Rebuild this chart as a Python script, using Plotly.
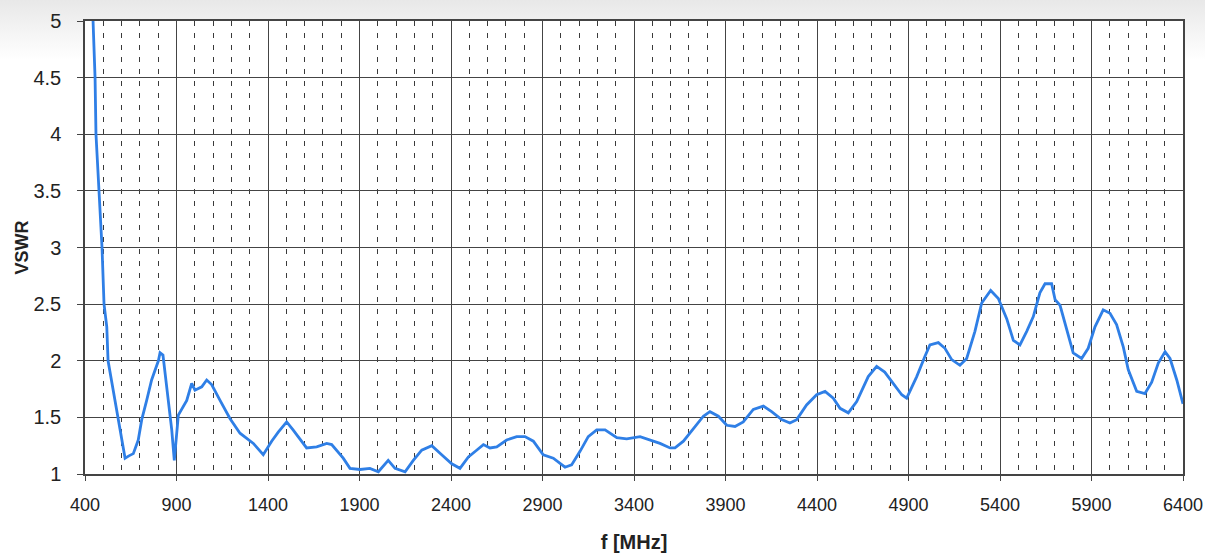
import plotly.graph_objects as go

freq_mhz = [444, 455, 460, 476, 493, 504, 519, 526, 555, 591, 609, 619, 640, 664, 691, 710, 737, 764,
            801, 810, 826, 854, 874, 888, 901, 910, 956, 983, 1001, 1038, 1065, 1092, 1138, 1192, 1247,
            1320, 1374, 1420, 1456, 1502, 1537, 1611, 1666, 1721, 1748, 1811, 1848, 1885, 1903, 1957,
            2003, 2057, 2094, 2149, 2194, 2240, 2295, 2349, 2404, 2449, 2495, 2540, 2577, 2613, 2650,
            2704, 2759, 2804, 2850, 2904, 2959, 3023, 3059, 3105, 3150, 3196, 3242, 3306, 3360, 3433,
            3488, 3542, 3597, 3624, 3670, 3724, 3779, 3815, 3861, 3907, 3952, 3997, 4052, 4107, 4152,
            4207, 4252, 4289, 4343, 4398, 4444, 4489, 4526, 4571, 4617, 4680, 4726, 4770, 4817, 4863,
            4890, 4945, 4990, 5017, 5063, 5099, 5136, 5181, 5218, 5263, 5300, 5327, 5349, 5391, 5437,
            5473, 5509, 5546, 5582, 5618, 5646, 5682, 5701, 5728, 5764, 5800, 5846, 5882, 5919, 5964,
            6001, 6037, 6074, 6101, 6147, 6192, 6229, 6265, 6302, 6329, 6366, 6400]
vswr = [5.0, 4.5, 4.0, 3.5, 3.0, 2.5, 2.3, 2.0, 1.74, 1.42, 1.24, 1.14, 1.16, 1.18, 1.30, 1.48, 1.65,
        1.83, 2.0, 2.07, 2.05, 1.68, 1.39, 1.12, 1.39, 1.52, 1.65, 1.80, 1.74, 1.77, 1.83, 1.79, 1.65,
        1.49, 1.36, 1.27, 1.17, 1.29, 1.37, 1.46, 1.39, 1.23, 1.24, 1.27, 1.26, 1.14, 1.05, 1.04, 1.04,
        1.05, 1.02, 1.12, 1.05, 1.02, 1.12, 1.21, 1.25, 1.17, 1.09, 1.05, 1.15, 1.21, 1.26, 1.23, 1.24,
        1.30, 1.33, 1.33, 1.29, 1.17, 1.14, 1.06, 1.08, 1.20, 1.33, 1.39, 1.39, 1.32, 1.31, 1.33,
        1.30, 1.27, 1.23, 1.23, 1.29, 1.40, 1.51, 1.55, 1.51, 1.43, 1.42, 1.46, 1.57, 1.60, 1.55,
        1.48, 1.45, 1.48, 1.61, 1.70, 1.73, 1.67, 1.58, 1.54, 1.64, 1.86, 1.95, 1.90, 1.80, 1.70,
        1.67, 1.86, 2.04, 2.14, 2.16, 2.11, 2.01, 1.96, 2.02, 2.26, 2.51, 2.57, 2.62, 2.55, 2.37,
        2.18, 2.14, 2.26, 2.39, 2.60, 2.68, 2.68, 2.54, 2.49, 2.27, 2.07, 2.02, 2.11, 2.30, 2.45,
        2.42, 2.32, 2.12, 1.92, 1.73, 1.71, 1.81, 1.98, 2.08, 2.02, 1.83, 1.62]

fig = go.Figure()
fig.add_trace(go.Scatter(x=freq_mhz, y=vswr, mode="lines",
                         line=dict(color="#2f7fe6", width=2.8), showlegend=False))

fig.update_layout(
    width=1205, height=553,
    margin=dict(l=85, r=22, t=21, b=79, autoexpand=False),
    paper_bgcolor="rgba(0,0,0,0)", plot_bgcolor="white",
    font=dict(family="Liberation Sans, Arial, sans-serif", size=18, color="#222"),
    xaxis=dict(
        range=[400, 6400], tick0=400, dtick=500,
        showgrid=True, gridcolor="#444", gridwidth=1,
        minor=dict(dtick=100, tick0=400, showgrid=True, gridcolor="#3a3a3a", gridwidth=1,
                   griddash="5px,7px", ticks=""),
        showline=True, linecolor="#444", linewidth=1.5, mirror=True,
        ticks="outside", ticklen=5, tickcolor="#444",
        tickfont=dict(size=18), ticklabelstandoff=9,
        title=dict(text="<b>f [MHz]</b>", font=dict(size=20), standoff=22),
        zeroline=False, automargin=False,
    ),
    yaxis=dict(
        range=[1, 5], dtick=0.5, tick0=1,
        showgrid=True, gridcolor="#444", gridwidth=1,
        showline=True, linecolor="#444", linewidth=1.5, mirror=True,
        ticks="outside", ticklen=6, tickcolor="#444",
        tickfont=dict(size=20), ticklabelstandoff=12,
        title=dict(text="<b>VSWR</b>", font=dict(size=18), standoff=0),
        zeroline=False, automargin=False,
    ),
)

fig.write_html(
    "out.html",
    config={"displayModeBar": False},
    post_script="document.body.style.margin='0';"
                "document.body.style.background='linear-gradient(#e8e8e8 0px, #ffffff 60px) no-repeat';"
                "document.body.style.backgroundColor='#ffffff';",
)
